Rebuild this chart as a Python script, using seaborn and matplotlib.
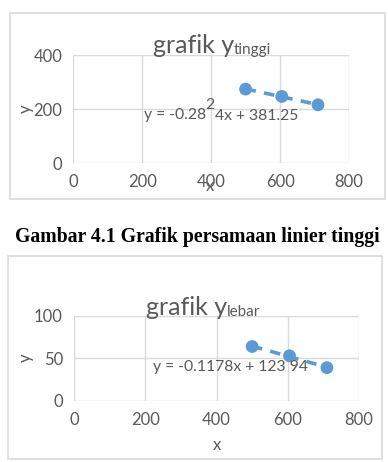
import matplotlib
matplotlib.use("Agg")
import matplotlib.pyplot as plt
import seaborn as sns
import pandas as pd
from matplotlib.patches import Rectangle

# ---- data ----
x_tinggi = [500, 605, 710]
y_tinggi = [274, 247, 216]
x_lebar = [500, 605, 710]
y_lebar = [64, 53, 39]

x_ticks = [0, 200, 400, 600, 800]
y_ticks_tinggi = [0, 200, 400]
y_ticks_lebar = [0, 50, 100]

title_main = "grafik y"
sub_tinggi = "tinggi"
sub_lebar = "lebar"
eq_tinggi_a = "y = -0.28"
eq_tinggi_b = "4x + 381.25"
eq_tinggi_sup = "2"
eq_lebar = "y = -0.1178x + 123 94"
caption = "Gambar 4.1 Grafik persamaan linier tinggi"

sns.set_theme(style="white")
plt.rcParams['font.family'] = ['Lato', 'DejaVu Sans']

W, H = 388, 462
fig = plt.figure(figsize=(W / 100, H / 100), dpi=100)
fig.patch.set_facecolor("white")

TXT = "#595959"
GRID = "#d9d9d9"
BLUE = "#5b9bd5"


def fx(px):
    return px / W


def fy(py):
    return 1 - py / H


# chart borders
for (x0, y0, x1, y1) in [(10, 13, 385, 199), (8, 256, 382, 459)]:
    fig.patches.append(Rectangle((fx(x0), fy(y1)), fx(x1) - fx(x0), fy(y0) - fy(y1),
                                 transform=fig.transFigure, fill=False,
                                 edgecolor="#d9d9d9", linewidth=1.2))


def make_chart(rect, xs, ys, yticks):
    ax = fig.add_axes(rect)
    df = pd.DataFrame({"x": xs, "y": ys})
    sns.regplot(data=df, x="x", y="y", ax=ax, ci=None, truncate=True,
                scatter_kws=dict(s=85, color=BLUE, edgecolor="none", alpha=1, zorder=4),
                line_kws=dict(color=BLUE, linestyle=(0, (2.9, 2.3)), linewidth=2.6, zorder=3))
    ax.set_xlim(0, 800)
    ax.set_ylim(yticks[0], yticks[-1])
    ax.set_xticks(x_ticks)
    ax.set_yticks(yticks)
    ax.grid(True, color=GRID, linewidth=1)
    ax.set_axisbelow(True)
    for s in ax.spines.values():
        s.set_visible(False)
    ax.tick_params(colors=TXT, labelsize=12, length=0, pad=8)
    for lab in ax.get_xticklabels() + ax.get_yticklabels():
        lab.set_color(TXT)
    ax.set_xlabel("")
    ax.set_ylabel("")
    ax.set_facecolor("none")
    return ax


ax1 = make_chart([fx(73.3), fy(163.3), fx(349) - fx(73.3), fy(55) - fy(163.3)],
                 x_tinggi, y_tinggi, y_ticks_tinggi)
ax2 = make_chart([fx(74), fy(400.7), fx(359) - fx(74), fy(316) - fy(400.7)],
                 x_lebar, y_lebar, y_ticks_lebar)


def title(x, y, sub):
    t = fig.text(fx(x), fy(y), title_main, fontsize=18, color=TXT, ha="left", va="baseline")
    a = plt.annotate(sub, xy=(1, 0), xycoords=t, xytext=(0, 0), textcoords="offset points",
                     fontsize=11, color=TXT, ha="left", va="bottom", annotation_clip=False)
    return t, a


title(153, 53, sub_tinggi)
title(146, 315, sub_lebar)

# equations
fig.text(fx(144), fy(115.5), eq_tinggi_a, fontsize=11.3, color=TXT, ha="left", va="center")
fig.text(fx(215), fy(115.5), eq_tinggi_b, fontsize=11.3, color=TXT, ha="left", va="center")
fig.text(fx(205), fy(105), eq_tinggi_sup, fontsize=11.3, color=TXT, ha="left", va="center")
fig.text(fx(153), fy(367), eq_lebar, fontsize=11.3, color=TXT, ha="left", va="center")

# axis labels
fig.text(fx(210), fy(186), "x", fontsize=12, color=TXT, ha="center", va="center")
fig.text(fx(26), fy(109), "y", fontsize=12, color=TXT, ha="center", va="center", rotation=90)
fig.text(fx(217), fy(445), "x", fontsize=12, color=TXT, ha="center", va="center")
fig.text(fx(26), fy(358), "y", fontsize=12, color=TXT, ha="center", va="center", rotation=90)

# caption
fig.text(fx(197), fy(237), caption, fontsize=14.2, fontweight="bold", color="black",
         family=["Liberation Serif", "DejaVu Serif"], ha="center", va="center")

fig.savefig("out.png", dpi=100, facecolor="white")
